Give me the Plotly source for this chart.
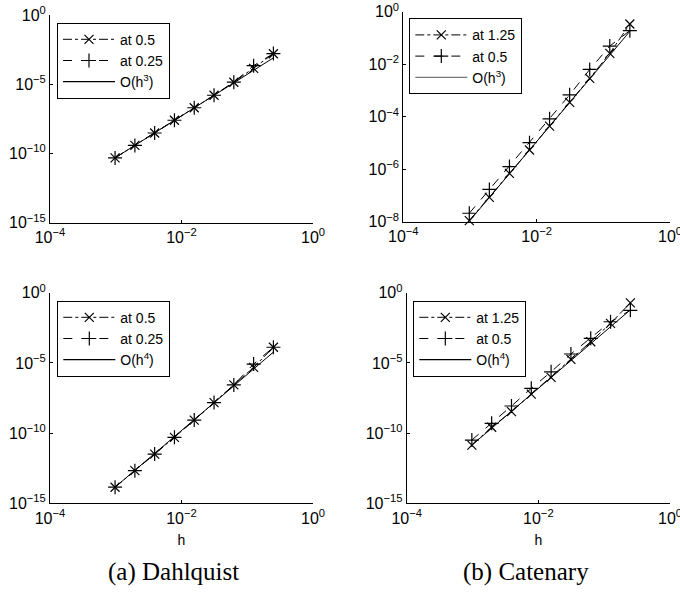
import plotly.graph_objects as go

W, H = 680, 598

h = [0.0009765625, 0.001953125, 0.00390625, 0.0078125, 0.015625,
     0.03125, 0.0625, 0.125, 0.25]

# (a) Dahlquist, order 3
dq3_at05 = [4.8e-11, 3.8e-10, 3.0e-9, 2.5e-8, 2.0e-7, 1.6e-6, 1.4e-5, 1.4e-4, 1.6e-3]
dq3_at025 = [4.8e-11, 3.8e-10, 3.0e-9, 2.5e-8, 2.0e-7, 1.6e-6, 1.4e-5, 2.2e-4, 1.65e-3]
dq3_ref = [4.8e-11, 3.8e-10, 3.1e-9, 2.45e-8, 1.95e-7, 1.6e-6, 1.25e-5, 1.0e-4, 8.1e-4]

# (b) Catenary, order 3
ct3_at125 = [1.1e-8, 8.5e-8, 6.9e-7, 5.4e-6, 4.4e-5, 3.5e-4, 2.9e-3, 2.6e-2, 3.4e-1]
ct3_at05 = [2.1e-8, 1.7e-7, 1.26e-6, 1.02e-5, 8.3e-5, 6.8e-4, 6.3e-3, 4.9e-2, 1.9e-1]
ct3_ref = [1.05e-8, 8.3e-8, 6.8e-7, 5.4e-6, 4.3e-5, 3.5e-4, 2.75e-3, 2.2e-2, 1.8e-1]

# (a) Dahlquist, order 4
dq4_at05 = [1.4e-14, 2.1e-13, 3.2e-12, 5.0e-11, 8.5e-10, 1.5e-8, 2.7e-7, 4.8e-6, 1.3e-4]
dq4_at025 = [1.4e-14, 2.1e-13, 3.2e-12, 5.0e-11, 8.5e-10, 1.5e-8, 2.7e-7, 8.3e-6, 1.3e-4]
dq4_ref = [1.4e-14, 2.2e-13, 3.5e-12, 5.6e-11, 9.1e-10, 1.45e-8, 2.3e-7, 3.7e-6, 5.9e-5]

# (b) Catenary, order 4
ct4_at125 = [1.4e-11, 2.6e-10, 3.4e-9, 6.0e-8, 9.3e-7, 1.8e-5, 3.2e-4, 6.6e-3, 1.9e-1]
ct4_at05 = [3.2e-11, 5.0e-10, 8.5e-9, 1.55e-7, 2.3e-6, 4.3e-5, 5.6e-4, 8.5e-3, 5.6e-2]
ct4_ref = [1.4e-11, 2.2e-10, 3.6e-9, 5.8e-8, 9.3e-7, 1.5e-5, 2.3e-4, 3.8e-3, 6.0e-2]

x_ticks = [1e-4, 1e-2, 1]
x_ticktext = ["10<sup>\u22124</sup>", "10<sup>\u22122</sup>", "10<sup>0</sup>"]
y15_ticks = [1e-15, 1e-10, 1e-5, 1]
y15_text = ["10<sup>\u221215</sup>", "10<sup>\u221210</sup>", "10<sup>\u22125</sup>", "10<sup>0</sup>"]
y8_ticks = [1e-8, 1e-6, 1e-4, 1e-2, 1]
y8_text = ["10<sup>\u22128</sup>", "10<sup>\u22126</sup>", "10<sup>\u22124</sup>",
           "10<sup>\u22122</sup>", "10<sup>0</sup>"]

panels = [
    dict(s=(dq3_at05, dq3_at025, dq3_ref), lab=("at 0.5", "at 0.25"), p=3,
         yr=[-15, 0], yt=y15_ticks, ytt=y15_text, box=(50, 313, 15, 222.7),
         leg=(57, 22.7), xl=False, refcol="black"),
    dict(s=(ct3_at125, ct3_at05, ct3_ref), lab=("at 1.25", "at 0.5"), p=3,
         yr=[-8, 0], yt=y8_ticks, ytt=y8_text, box=(403.3, 670, 11.7, 221.7),
         leg=(409.3, 18.3), xl=False, refcol="#777777"),
    dict(s=(dq4_at05, dq4_at025, dq4_ref), lab=("at 0.5", "at 0.25"), p=4,
         yr=[-15, 0], yt=y15_ticks, ytt=y15_text, box=(50, 313, 292.7, 503.3),
         leg=(57.3, 300.7), xl=True, refcol="black"),
    dict(s=(ct4_at125, ct4_at05, ct4_ref), lab=("at 1.25", "at 0.5"), p=4,
         yr=[-15, 0], yt=y15_ticks, ytt=y15_text, box=(406.7, 670, 292.7, 503.3),
         leg=(413.3, 300.7), xl=True, refcol="black"),
]

fig = go.Figure()
font_sans = "Liberation Sans, Arial, sans-serif"
layout = dict(width=W, height=H, margin=dict(l=0, r=0, t=0, b=0, autoexpand=False),
              paper_bgcolor="white", plot_bgcolor="white",
              font=dict(family=font_sans, size=15, color="black"),
              annotations=[])

for i, P in enumerate(panels):
    k = "" if i == 0 else str(i + 1)
    xa, ya = "x" + k, "y" + k
    legname = "legend" + k
    a, b, ref = P["s"]
    fig.add_trace(go.Scatter(x=h, y=a, mode="lines+markers", name=P["lab"][0],
                             xaxis=xa, yaxis=ya, legend=legname, cliponaxis=False,
                             line=dict(color="black", width=1, dash="dashdot"),
                             marker=dict(symbol="x-thin", size=9,
                                         line=dict(color="black", width=1.2))))
    fig.add_trace(go.Scatter(x=h, y=b, mode="lines+markers", name=P["lab"][1],
                             xaxis=xa, yaxis=ya, legend=legname, cliponaxis=False,
                             line=dict(color="black", width=1, dash="dash"),
                             marker=dict(symbol="cross-thin", size=10,
                                         line=dict(color="black", width=1.2))))
    fig.add_trace(go.Scatter(x=h, y=ref, mode="lines", showlegend=False,
                             xaxis=xa, yaxis=ya, cliponaxis=False,
                             line=dict(color="black", width=1)))
    fig.add_trace(go.Scatter(x=[None], y=[None], mode="lines",
                             name="O(h<sup>%d</sup>)" % P["p"],
                             xaxis=xa, yaxis=ya, legend=legname,
                             line=dict(color=P["refcol"], width=1.2)))
    l, r, t, bt = P["box"]
    axcommon = dict(type="log", showgrid=False, zeroline=False, showline=True,
                    linecolor="black", linewidth=1, ticks="inside", ticklen=3,
                    tickcolor="black", mirror=False, automargin=False,
                    ticklabeloverflow="allow",
                    tickfont=dict(family=font_sans, size=16, color="black"))
    layout["xaxis" + k] = dict(axcommon, domain=[l / W, r / W], range=[-4, 0],
                               tickvals=x_ticks, ticktext=x_ticktext,
                               anchor=ya,
                               title=dict(text="h", font=dict(size=14), standoff=9) if P["xl"] else None)
    layout["yaxis" + k] = dict(axcommon, domain=[(H - bt) / H, (H - t) / H],
                               range=P["yr"], tickvals=P["yt"], ticktext=P["ytt"],
                               anchor=xa)
    lx, ly = P["leg"]
    layout[legname] = dict(x=lx / W, y=(H - ly) / H, xanchor="left", yanchor="top",
                           xref="paper", yref="paper",
                           bgcolor="white", bordercolor="black", borderwidth=1,
                           font=dict(family=font_sans, size=14, color="black"),
                           itemwidth=52, tracegroupgap=0)

captions = [("(a) Dahlquist", 173), ("(b) Catenary", 526)]
for txt, cx in captions:
    layout["annotations"].append(dict(text=txt, x=cx / W, y=(H - 572) / H,
                                      xref="paper", yref="paper", showarrow=False,
                                      xanchor="center", yanchor="middle",
                                      font=dict(family="Liberation Serif, serif",
                                                size=25, color="black")))

fig.update_layout(**layout)
fig.write_html("out.html")
